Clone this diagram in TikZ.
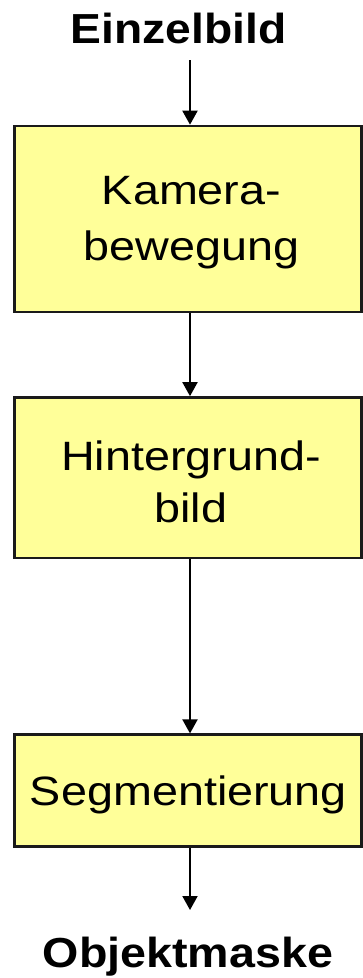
\documentclass[tikz,border=0pt]{standalone}
\usepackage{fontspec}
\setmainfont{Liberation Sans}
\usetikzlibrary{arrows.meta}
\definecolor{boxfill}{HTML}{FFFF99}
\definecolor{boxline}{HTML}{1A1A1A}
\newcommand{\widetext}[2]{\scalebox{#1}[1]{#2}}
\tikzset{
  stage/.style={draw=boxline, line width=2.6pt, fill=boxfill, minimum width=347pt, inner sep=0pt},
  boxtext/.style={anchor=base, inner sep=0pt, font=\fontsize{41}{50}\selectfont},
  title/.style={anchor=base, inner sep=0pt, font=\fontsize{42}{50}\selectfont\bfseries},
  flow/.style={line width=2pt, -{Triangle[width=15pt,length=14pt]}}
}
\begin{document}
\begin{tikzpicture}[x=1pt,y=1pt]
\useasboundingbox (0,0) rectangle (363,-978);
\fill[white] (0,0) rectangle (363,-978);

% input and output labels
\node[title] (in) at (178.7,-43) {\widetext{1.1}{Einzelbild}};
\node[title] (out) at (188,-967) {\widetext{1.11}{Objektmaske}};

% processing stages
\node[stage, minimum height=186pt] (cam) at (188,-219) {};
\node[stage, minimum height=160.5pt] (bg) at (188,-477.7) {};
\node[stage, minimum height=111.6pt] (seg) at (188,-790.5) {};

\node[boxtext] (cam1) at (191.5,-204) {\widetext{1.14}{Kamera-}};
\node[boxtext] (cam2) at (191.5,-260) {\widetext{1.14}{bewegung}};
\node[boxtext] (bg1) at (191,-470) {\widetext{1.14}{Hintergrund-}};
\node[boxtext] (bg2) at (191,-522) {\widetext{1.14}{bild}};
\node[boxtext] (seg1) at (188.5,-805) {\widetext{1.14}{Segmentierung}};

% connectors
\coordinate (inEnd) at (190,-60);
\coordinate (outEnd) at (190,-910);
\draw[flow] (inEnd) -- (inEnd |- cam.north);
\draw[flow] (inEnd |- cam.south) -- (inEnd |- bg.north);
\draw[flow] (inEnd |- bg.south) -- (inEnd |- seg.north);
\draw[flow] (inEnd |- seg.south) -- (outEnd);
\end{tikzpicture}
\end{document}
